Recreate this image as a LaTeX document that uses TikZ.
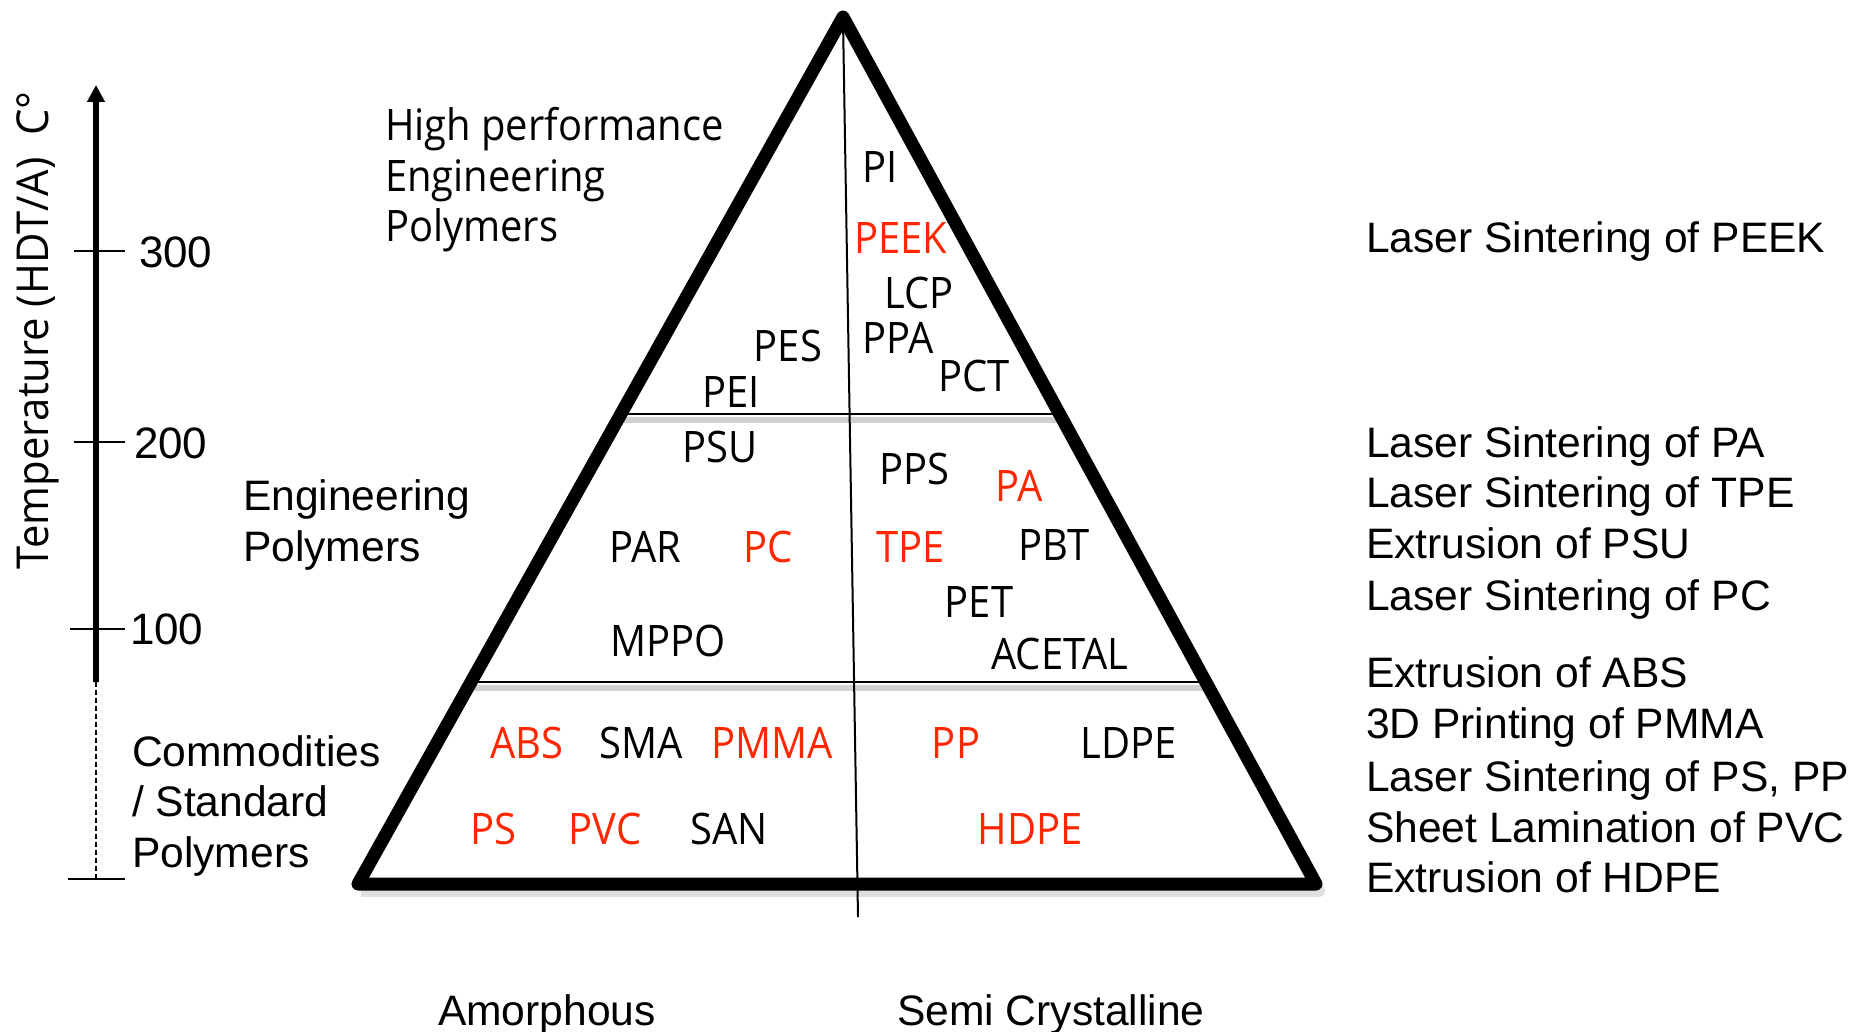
\documentclass[tikz,border=0pt]{standalone}
\usepackage{fontspec}
\setmainfont{Liberation Sans}
\newfontfamily\condfont[FakeStretch=0.92]{Open Sans}
\newfontfamily\axisfont[FakeStretch=0.95]{Open Sans}
\usetikzlibrary{arrows.meta}
\definecolor{hot}{RGB}{255,38,0}

\begin{document}
\begin{tikzpicture}[x=0.5pt,y=-0.5pt,
  every node/.style={inner sep=0pt, outer sep=0pt},
  poly/.style={font=\condfont\fontsize{21.7pt}{25.5pt}\selectfont, anchor=center},
  hotpoly/.style={poly, text=hot},
  grouplabel/.style={font=\fontsize{21.3pt}{25.5pt}\selectfont, anchor=base west},
  condlabel/.style={font=\condfont\fontsize{21.7pt}{25.5pt}\selectfont, anchor=base west},
  process/.style={font=\fontsize{21.3pt}{25.5pt}\selectfont, anchor=base west},
  ticklabel/.style={font=\fontsize{22pt}{25.5pt}\selectfont, anchor=base west},
  classlabel/.style={font=\fontsize{21.3pt}{24pt}\selectfont, anchor=base west},
  frame/.style={line width=6.5pt, line join=round, line cap=round},
  divider/.style={line width=1pt},
  shade/.style={line width=3pt, black!18},
  tick/.style={line width=1pt},
]
\useasboundingbox (0,0) rectangle (1867,1032);
\fill[white] (0,0) rectangle (1867,1032);

% corners of the pyramid and its inner lines
\coordinate (apex) at (843,17);
\coordinate (bl) at (358,884);
\coordinate (br) at (1316,884);
\coordinate (ul) at (621,414);
\coordinate (ur) at (1065,414);
\coordinate (ll) at (471,682);
\coordinate (lr) at (1206,682);
\coordinate (dtop) at (843,20);
\coordinate (dbot) at (858,917);

% soft shadow under the pyramid
\draw[shade] ([shift={(3,6)}]ul) -- ([shift={(3,6)}]ur);
\draw[shade] ([shift={(3,6)}]ll) -- ([shift={(3,6)}]lr);
\draw[line width=6pt, black!12, line join=round] ([shift={(3,7)}]bl) -- ([shift={(3,7)}]br) -- ([shift={(3,7)}]apex);

% class boundaries and the amorphous / semi-crystalline split
\draw[divider] (ul) -- (ur);
\draw[divider] (ll) -- (lr);
\draw[divider] (dtop) -- (dbot);

% pyramid outline
\draw[frame] (apex) -- (br) -- (bl) -- cycle;

% temperature axis
\coordinate (axtip) at (96,85);
\coordinate (axsolid) at (96,682);
\coordinate (axbot) at (96,879);
\draw[line width=3pt, -{Stealth[length=17pt*0.5, width=17pt*0.5, inset=0pt]}] (axsolid) -- (axtip);
\draw[line width=1pt, dash pattern=on 2.5pt off 1.5pt] (axsolid) -- (axbot);
\coordinate (t3a) at (74,251);  \coordinate (t3b) at (125,251);
\coordinate (t2a) at (74,442);  \coordinate (t2b) at (125,442);
\coordinate (t1a) at (70,629);  \coordinate (t1b) at (125,629);
\coordinate (t0a) at (68,879);  \coordinate (t0b) at (125,879);
\draw[tick] (t3a) -- (t3b);
\draw[tick] (t2a) -- (t2b);
\draw[tick] (t1a) -- (t1b);
\draw[tick] (t0a) -- (t0b);
\node[ticklabel] (n300) at (139,267) {300};
\node[ticklabel] (n200) at (134,458) {200};
\node[ticklabel] (n100) at (130,644) {100};
\node[font=\axisfont\fontsize{22pt}{25.5pt}\selectfont, anchor=base west, rotate=90] (taxis) at (48,569) {Temperature (HDT/A)\ \ C°};

% class names on the left
\node[condlabel] (hp1) at (385,141) {High performance};
\node[condlabel] (hp2) at (385,192) {Engineering};
\node[condlabel] (hp3) at (385,242) {Polymers};
\node[grouplabel] (en1) at (243,510) {Engineering};
\node[grouplabel] (en2) at (243,561) {Polymers};
\node[grouplabel] (co1) at (132,766) {Commodities};
\node[grouplabel] (co2) at (132,816) {/ Standard};
\node[grouplabel] (co3) at (132,867) {Polymers};

% polymers, top tier
\node[poly] (pi) at (880,167) {PI};
\node[hotpoly] (peek) at (901,238) {PEEK};
\node[poly] (lcp) at (919,293) {LCP};
\node[poly] (ppa) at (898,338) {PPA};
\node[poly] (pct) at (974,376) {PCT};
\node[poly] (pes) at (788,346) {PES};
\node[poly] (pei) at (731,392) {PEI};

% polymers, middle tier
\node[poly] (psu) at (720,447) {PSU};
\node[poly] (pps) at (914,469) {PPS};
\node[hotpoly] (pa) at (1019,486) {PA};
\node[poly] (par) at (645,547) {PAR};
\node[hotpoly] (pc) at (768,547) {PC};
\node[hotpoly] (tpe) at (911,547) {TPE};
\node[poly] (pbt) at (1054,545) {PBT};
\node[poly] (pet) at (979,602) {PET};
\node[poly] (mppo) at (668,641) {MPPO};
\node[poly] (acetal) at (1060,654) {ACETAL};

% polymers, bottom tier
\node[hotpoly] (abs) at (527,743) {ABS};
\node[poly] (sma) at (641,743) {SMA};
\node[hotpoly] (pmma) at (772,743) {PMMA};
\node[hotpoly] (pp) at (956,743) {PP};
\node[poly] (ldpe) at (1129,743) {LDPE};
\node[hotpoly] (ps) at (493,829) {PS};
\node[hotpoly] (pvc) at (605,829) {PVC};
\node[poly] (san) at (729,829) {SAN};
\node[hotpoly] (hdpe) at (1030,829) {HDPE};

% processes on the right
\node[process] (r1) at (1366,252) {Laser Sintering of PEEK};
\node[process] (r2) at (1366,457) {Laser Sintering of PA};
\node[process] (r3) at (1366,507) {Laser Sintering of TPE};
\node[process] (r4) at (1366,558) {Extrusion of PSU};
\node[process] (r5) at (1366,610) {Laser Sintering of PC};
\node[process] (r6) at (1366,687) {Extrusion of ABS};
\node[process] (r7) at (1366,738) {3D Printing of PMMA};
\node[process] (r8) at (1366,791) {Laser Sintering of PS, PP};
\node[process] (r9) at (1366,842) {Sheet Lamination of PVC};
\node[process] (r10) at (1366,892) {Extrusion of HDPE};

% structure classes along the base
\node[classlabel] (amor) at (438,1025) {Amorphous};
\node[classlabel] (semi) at (897,1025) {Semi Crystalline};
\end{tikzpicture}
\end{document}
